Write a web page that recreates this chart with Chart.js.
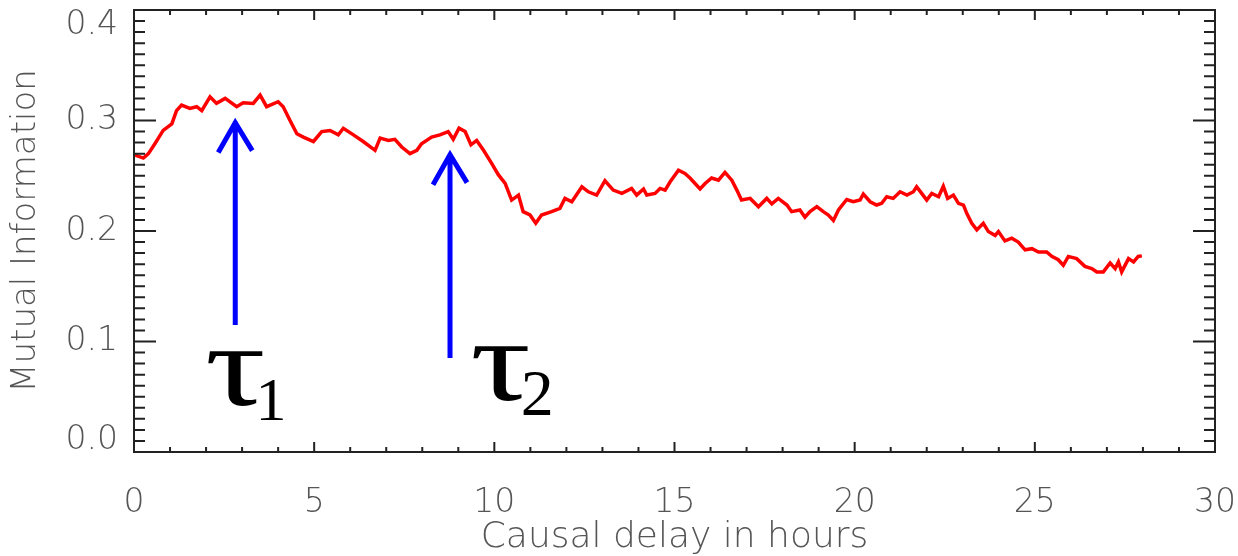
<!DOCTYPE html>
<html lang="en">
<head>
<meta charset="UTF-8">
<title>Mutual Information vs causal delay</title>
<script src="https://cdn.jsdelivr.net/npm/chart.js"></script>
<style>
  html, body { margin: 0; padding: 0; background: #fff; }
  #wrap { width: 1238px; height: 556px; position: relative; }
</style>
</head>
<body>
<div id="wrap"><canvas id="miChart"></canvas></div>
<script>
// values
const delayHours = [
  0.00, 0.26, 0.40, 0.58, 0.81, 1.05, 1.18, 1.32, 1.55, 1.74, 1.88, 2.11, 2.29, 2.53, 2.85, 3.03,
  3.31, 3.50, 3.68, 4.00, 4.14, 4.33, 4.52, 4.70, 4.98, 5.21, 5.44, 5.67, 5.81, 6.09, 6.36, 6.69,
  6.83, 7.06, 7.24, 7.43, 7.66, 7.85, 7.98, 8.26, 8.49, 8.72, 8.86, 9.02, 9.19, 9.35, 9.51, 9.70,
  9.93, 10.11, 10.30, 10.48, 10.67, 10.80, 10.99, 11.15, 11.31, 11.59, 11.82, 11.96, 12.15, 12.43,
  12.61, 12.84, 13.07, 13.30, 13.54, 13.81, 13.95, 14.14, 14.23, 14.46, 14.60, 14.74, 14.88, 15.11,
  15.29, 15.43, 15.57, 15.71, 15.85, 16.03, 16.22, 16.40, 16.59, 16.73, 16.86, 17.10, 17.33, 17.56,
  17.70, 17.88, 18.12, 18.25, 18.48, 18.62, 18.76, 18.95, 19.13, 19.27, 19.41, 19.55, 19.78, 19.96,
  20.15, 20.24, 20.43, 20.61, 20.75, 20.89, 21.07, 21.26, 21.45, 21.63, 21.72, 21.86, 22.00, 22.14,
  22.33, 22.46, 22.58, 22.74, 22.88, 23.02, 23.11, 23.25, 23.39, 23.57, 23.71, 23.90, 23.99, 24.17,
  24.36, 24.54, 24.73, 24.92, 25.10, 25.33, 25.47, 25.65, 25.79, 25.93, 26.16, 26.39, 26.58, 26.72,
  26.90, 27.09, 27.23, 27.32, 27.41, 27.60, 27.74, 27.87, 27.97
];
const mutualInfo = [
  0.269, 0.266, 0.270, 0.279, 0.291, 0.297, 0.309, 0.314, 0.311, 0.3125, 0.309, 0.3215, 0.3155, 0.320, 0.3125, 0.316,
  0.3155, 0.323, 0.3125, 0.317, 0.3125, 0.300, 0.288, 0.285, 0.281, 0.290, 0.291, 0.287, 0.293, 0.287, 0.281, 0.273,
  0.284, 0.282, 0.283, 0.276, 0.270, 0.273, 0.279, 0.285, 0.287, 0.290, 0.283, 0.293, 0.290, 0.278, 0.282, 0.273,
  0.261, 0.251, 0.243, 0.228, 0.2325, 0.2175, 0.2145, 0.207, 0.2145, 0.2175, 0.2205, 0.2295, 0.2265, 0.240,
  0.2355, 0.2325, 0.2455, 0.237, 0.234, 0.2385, 0.2325, 0.238, 0.2325, 0.234, 0.2385, 0.237, 0.2445, 0.255,
  0.252, 0.248, 0.243, 0.238, 0.243, 0.248, 0.246, 0.253, 0.246, 0.237, 0.228, 0.2295, 0.222, 0.2295,
  0.2245, 0.2295, 0.2235, 0.2175, 0.219, 0.2125, 0.2175, 0.222, 0.2175, 0.2145, 0.2095, 0.219, 0.2285, 0.2265,
  0.228, 0.2335, 0.2265, 0.2235, 0.225, 0.231, 0.2295, 0.2355, 0.2325, 0.2355, 0.240, 0.234, 0.228, 0.234,
  0.231, 0.2405, 0.2295, 0.2325, 0.225, 0.2235, 0.216, 0.207, 0.201, 0.207, 0.1995, 0.196, 0.1995, 0.191,
  0.1935, 0.190, 0.183, 0.184, 0.181, 0.181, 0.177, 0.174, 0.169, 0.177, 0.175, 0.168, 0.166, 0.163,
  0.163, 0.171, 0.166, 0.172, 0.163, 0.175, 0.172, 0.177, 0.1775
];

const yTickValues = [0.0, 0.1, 0.2, 0.3, 0.4];
const yTickLabels = ['0.0', '0.1', '0.2', '0.3', '0.4'];

// the two marked delays (blue arrows) and their labels
const arrowX = [2.81, 8.77];
const arrowTip = [0.299, 0.270];
const arrowBase = [0.115, 0.085];
const tauSubs = ['1', '2'];
const tauX = [1.97, 9.33];
const tauY = [0.0425, 0.047];

const AXIS_FONT = '"DejaVu Sans", sans-serif';
const AXIS_COLOR = '#555';

// IDL style box: inward ticks on all four sides, minor ticks, y labels pulled inside the ends
const idlFrame = {
  id: 'idlFrame',
  afterDraw(chart) {
    const { ctx, chartArea: a, scales: { x, y } } = chart;
    ctx.save();
    ctx.strokeStyle = '#222';
    ctx.lineWidth = 2;
    ctx.strokeRect(a.left, a.top, a.right - a.left, a.bottom - a.top);
    ctx.beginPath();
    for (let v = 0; v <= 30; v++) {
      const px = x.getPixelForValue(v);
      const len = v % 5 === 0 ? 10 : 5;
      ctx.moveTo(px, a.bottom); ctx.lineTo(px, a.bottom - len);
      ctx.moveTo(px, a.top); ctx.lineTo(px, a.top + len);
    }
    for (let i = 0; i <= 40; i++) {
      const py = y.getPixelForValue(i / 100);
      const len = i % 10 === 0 ? 22 : 11;
      ctx.moveTo(a.left, py); ctx.lineTo(a.left + len, py);
      ctx.moveTo(a.right, py); ctx.lineTo(a.right - len, py);
    }
    ctx.stroke();

    ctx.fillStyle = AXIS_COLOR;
    ctx.font = '200 33px ' + AXIS_FONT;
    ctx.textAlign = 'right';
    ctx.textBaseline = 'middle';
    yTickValues.forEach((v, i) => {
      let py = y.getPixelForValue(v);
      py = Math.min(Math.max(py, a.top + 15), a.bottom - 12);
      ctx.fillText(yTickLabels[i], a.left - 16, py);
    });

    // arrows
    ctx.strokeStyle = '#0000ff';
    ctx.lineWidth = 5;
    arrowX.forEach((v, i) => {
      const px = x.getPixelForValue(v);
      const top = y.getPixelForValue(arrowTip[i]);
      const base = y.getPixelForValue(arrowBase[i]);
      ctx.beginPath();
      ctx.moveTo(px, base); ctx.lineTo(px, top);
      ctx.moveTo(px - 17, top + 31); ctx.lineTo(px, top + 1); ctx.lineTo(px + 17, top + 29);
      ctx.stroke();
    });

    // tau labels, the glyph stretched sideways like the Times tau of the original
    ctx.fillStyle = '#000';
    ctx.textAlign = 'left';
    ctx.textBaseline = 'alphabetic';
    tauSubs.forEach((s, i) => {
      const px = x.getPixelForValue(tauX[i]);
      const py = y.getPixelForValue(tauY[i]);
      ctx.save();
      ctx.translate(px, py);
      ctx.scale(1.3, 1);
      ctx.font = '116px "Liberation Serif", serif';
      ctx.fillText('\u03C4', 0, 0);
      const w = ctx.measureText('\u03C4').width * 1.3;
      ctx.restore();
      ctx.font = (i === 0 ? '62px' : '66px') + ' "Liberation Serif", serif';
      ctx.fillText(s, px + w - 10, py + 15);
    });
    ctx.restore();
  }
};

new Chart(document.getElementById('miChart'), {
  type: 'line',
  data: {
    datasets: [{
      data: delayHours.map((h, i) => ({ x: h, y: mutualInfo[i] })),
      borderColor: '#ff0000',
      borderWidth: 3.5,
      pointRadius: 0,
      tension: 0,
      fill: false
    }]
  },
  options: {
    responsive: true,
    maintainAspectRatio: false,
    animation: false,
    layout: { padding: { top: 10, right: 23, left: 0, bottom: 0 } },
    plugins: { legend: { display: false }, tooltip: { enabled: false } },
    scales: {
      x: {
        type: 'linear',
        min: 0,
        max: 30,
        ticks: {
          stepSize: 5,
          color: AXIS_COLOR,
          padding: 27,
          font: { family: AXIS_FONT, size: 33, weight: '200', lineHeight: 1 }
        },
        grid: { display: false },
        border: { display: false },
        title: {
          display: true,
          text: 'Causal delay in hours',
          color: AXIS_COLOR,
          padding: { top: 0, bottom: 0 },
          font: { family: AXIS_FONT, size: 36, weight: '200', lineHeight: 1 }
        },
        afterFit: s => { s.height = 104; s.paddingLeft = 0; s.paddingRight = 0; }
      },
      y: {
        min: 0,
        max: 0.4,
        ticks: { display: false },
        grid: { display: false },
        border: { display: false },
        title: {
          display: true,
          text: 'Mutual Information',
          color: AXIS_COLOR,
          padding: { top: 9, bottom: 0 },
          font: { family: AXIS_FONT, size: 34, weight: '200', lineHeight: 1 }
        },
        afterFit: s => { s.width = 134; s.paddingTop = 0; s.paddingBottom = 0; }
      }
    }
  },
  plugins: [idlFrame]
});
</script>
</body>
</html>
